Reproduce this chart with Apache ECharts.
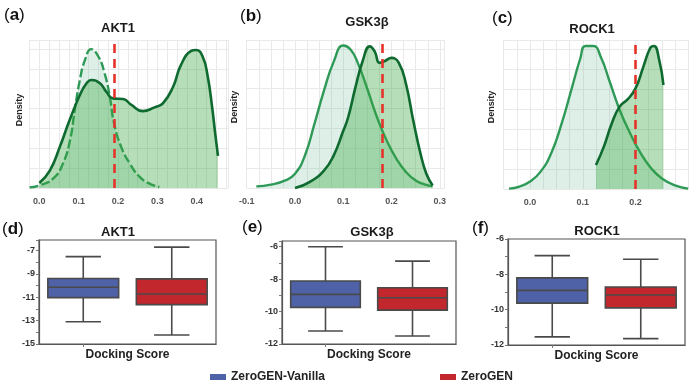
<!DOCTYPE html>
<html><head><meta charset="utf-8">
<script src="https://cdn.jsdelivr.net/npm/echarts@6/dist/echarts.min.js"></script>
<style>html,body{margin:0;padding:0;background:#fff}#c{width:700px;height:382px}</style>
</head><body><div id="c"></div>
<script>
const FONT = 'Liberation Sans, Arial, Helvetica, sans-serif';

// ---------- Density panels (a)-(c) ----------
const AKT1_VAN_X = [-0.025, 0.0, 0.035, 0.06, 0.078, 0.09, 0.103, 0.116, 0.132, 0.15, 0.166, 0.179, 0.19, 0.208, 0.23, 0.255, 0.28, 0.305];
const AKT1_VAN_D = [0.03, 0.13, 0.47, 1.23, 2.41, 3.92, 5.44, 6.45, 6.99, 6.62, 5.77, 4.6, 3.25, 2.07, 1.23, 0.56, 0.22, 0.05];
const AKT1_ZG_X = [0.0, 0.027, 0.052, 0.077, 0.103, 0.12, 0.132, 0.154, 0.17, 0.187, 0.213, 0.234, 0.263, 0.293, 0.314, 0.34, 0.36, 0.386, 0.398, 0.415, 0.428, 0.439, 0.447, 0.454];
const AKT1_ZG_D = [0.25, 0.89, 2.07, 3.42, 4.68, 5.27, 5.44, 5.27, 4.85, 4.51, 4.48, 4.18, 3.87, 4.06, 4.26, 5.10, 6.2, 6.9, 6.95, 6.62, 5.61, 4.09, 2.74, 1.62];

const GSK_VAN_X = [-0.08, -0.05, -0.02, 0.0, 0.02, 0.04, 0.06, 0.08, 0.1, 0.115, 0.13, 0.15, 0.17, 0.19, 0.21, 0.23, 0.25, 0.27, 0.285];
const GSK_VAN_D = [0.08, 0.17, 0.38, 0.72, 1.6, 3.2, 4.9, 6.35, 7.17, 6.97, 6.3, 4.97, 3.55, 2.38, 1.47, 0.8, 0.38, 0.17, 0.08];
const GSK_ZG_X = [0.0, 0.03, 0.06, 0.08, 0.1, 0.11, 0.125, 0.14, 0.155, 0.165, 0.175, 0.185, 0.2, 0.215, 0.23, 0.245, 0.26, 0.272, 0.285];
const GSK_ZG_D = [0.0, 0.3, 0.88, 1.63, 2.88, 3.55, 5.05, 6.38, 7.13, 6.88, 6.3, 6.38, 6.55, 6.3, 5.22, 3.38, 1.72, 0.72, 0.13];

const ROCK_VAN_X = [-0.04, -0.02, 0.0, 0.02, 0.04, 0.06, 0.08, 0.095, 0.105, 0.12, 0.135, 0.15, 0.17, 0.19, 0.21, 0.23, 0.25, 0.275, 0.3];
const ROCK_VAN_D = [0.02, 0.12, 0.37, 0.87, 1.78, 3.28, 5.12, 6.5, 7.15, 7.15, 6.55, 5.45, 3.95, 2.78, 1.78, 1.03, 0.53, 0.18, 0.02];
const ROCK_ZG_X = [0.125, 0.14, 0.155, 0.17, 0.185, 0.2, 0.215, 0.228, 0.235, 0.245, 0.253];
const ROCK_ZG_D = [1.2, 2.12, 3.28, 4.12, 4.48, 5.03, 6.12, 7.05, 7.15, 6.45, 5.2];

const THRESHOLDS = [0.187, 0.18, 0.2];

// ---------- Box panels (d)-(f): [low whisker, Q1, median, Q3, high whisker] ----------
const MODELS = ['ZeroGEN-Vanilla', 'ZeroGEN'];
const AKT1_BOX_VAN = [-13.09, -11.03, -10.14, -9.40, -7.52];
const AKT1_BOX_ZG  = [-14.23, -11.63, -10.72, -9.43, -6.71];
const GSK_BOX_VAN  = [-11.2, -9.74, -8.94, -8.12, -6.0];
const GSK_BOX_ZG   = [-11.51, -9.91, -9.15, -8.53, -6.89];
const ROCK_BOX_VAN = [-11.54, -9.63, -8.91, -8.2, -6.94];
const ROCK_BOX_ZG  = [-11.64, -9.9, -9.17, -8.72, -7.15];

const TITLES = ['AKT1', 'GSK3β', 'ROCK1'];

const LIGHT_LINE = '#2f9a58', DARK_LINE = '#0e6a2f';
const LIGHT_FILL = 'rgba(120,190,160,0.36)', DARK_FILL = 'rgba(55,165,60,0.52)';
const BLUE = '#4f62a8', RED = '#c1272d';

const zip = (xs, ys) => xs.map((x, i) => [x, ys[i]]);

const densGrids = [
  {left: 29.5, top: 40, width: 198.7, height: 148},
  {left: 246.7, top: 40, width: 198, height: 148},
  {left: 503.7, top: 40, width: 184.5, height: 149}
];
const densX = [[-0.025, 0.48], [-0.1, 0.31], [-0.05, 0.3]];
const boxGrids = [
  {left: 39, top: 240, width: 177, height: 104},
  {left: 282, top: 241, width: 174, height: 103},
  {left: 508, top: 239, width: 177, height: 106}
];
const boxY = [[-15, -6.1, 1], [-12, -5.65, 0], [-12, -6, 0]];

const grid = [], xAxis = [], yAxis = [], series = [];
densGrids.forEach((g, i) => {
  grid.push(Object.assign({show: false}, g));
  xAxis.push({type: 'value', gridIndex: i, min: densX[i][0], max: densX[i][1], interval: 0.025,
    axisLine: {show: false}, axisTick: {show: false},
    axisLabel: {margin: 9, color: '#555', fontSize: 9, fontWeight: 'bold', fontFamily: FONT,
      showMinLabel: i === 1, showMaxLabel: false,
      formatter: v => { const t = v * 10; return Math.abs(t - Math.round(t)) < 1e-6 ? (Math.round(t) / 10).toFixed(1) : ''; }},
    splitLine: {show: true, lineStyle: {color: '#e9e9e9', width: 1}}});
  yAxis.push({type: 'value', gridIndex: i, min: 0, max: 7.45, interval: 1,
    axisLine: {show: false}, axisTick: {show: false}, axisLabel: {show: false},
    splitLine: {show: true, lineStyle: {color: '#e9e9e9', width: 1}}});
});
boxGrids.forEach((g, k) => {
  const i = k + 3;
  grid.push(Object.assign({show: true, borderColor: '#555', borderWidth: 1.2}, g));
  xAxis.push({type: 'category', gridIndex: i, data: MODELS,
    axisLine: {show: true, lineStyle: {color: '#555', width: 1.2}},
    axisTick: {show: true, alignWithLabel: true, length: 3, lineStyle: {color: '#777'}},
    axisLabel: {show: false},
    name: 'Docking Score', nameLocation: 'middle', nameGap: 5,
    nameTextStyle: {fontSize: 12, fontWeight: 'bold', color: '#222', fontFamily: FONT, verticalAlign: 'top'}});
  const [mn, mx, par] = boxY[k];
  yAxis.push({type: 'value', gridIndex: i, min: mn, max: mx, interval: 1,
    axisLine: {show: true, lineStyle: {color: '#555', width: 1.2}},
    axisTick: {show: true, length: 3, lineStyle: {color: '#777'}},
    axisLabel: {margin: 4, fontSize: 9, fontWeight: 'bold', color: '#333', fontFamily: FONT,
      showMaxLabel: true, showMinLabel: true,
      formatter: v => (Number.isInteger(v) && Math.abs(v % 2) === par) ? String(v) : ''},
    splitLine: {show: false}});
});

const DENS = [
  [AKT1_VAN_X, AKT1_VAN_D, AKT1_ZG_X, AKT1_ZG_D],
  [GSK_VAN_X, GSK_VAN_D, GSK_ZG_X, GSK_ZG_D],
  [ROCK_VAN_X, ROCK_VAN_D, ROCK_ZG_X, ROCK_ZG_D]
];
DENS.forEach((d, i) => {
  series.push({type: 'line', xAxisIndex: i, yAxisIndex: i, data: [], z: 1, silent: true,
    markLine: {silent: true, symbol: 'none', label: {show: false},
      lineStyle: {color: '#e5332a', width: 2.6, type: [9, 6]},
      data: [{xAxis: THRESHOLDS[i]}]}});
  series.push({name: MODELS[0] + ' density', type: 'line', xAxisIndex: i, yAxisIndex: i, z: 2,
    data: zip(d[0], d[1]), smooth: 0.5, showSymbol: false, silent: true,
    lineStyle: {color: LIGHT_LINE, width: 2.4, type: i === 0 ? [9, 3] : 'solid'},
    areaStyle: {color: LIGHT_FILL}});
  series.push({name: MODELS[1] + ' density', type: 'line', xAxisIndex: i, yAxisIndex: i, z: 3,
    data: zip(d[2], d[3]), smooth: 0.5, showSymbol: false, silent: true,
    lineStyle: {color: DARK_LINE, width: 2.6},
    areaStyle: {color: DARK_FILL}});
});

function boxRender(params, api) {
  const c = api.value(0);
  const lo = api.value(1), q1 = api.value(2), md = api.value(3), q3 = api.value(4), hi = api.value(5);
  const bw = api.size([1, 0])[0] * 0.8;
  const x = api.coord([c, md])[0];
  const y = v => api.coord([c, v])[1];
  const stroke = '#4a4a4a';
  const ls = {stroke: stroke, lineWidth: 1.6, fill: null};
  return {type: 'group', children: [
    {type: 'line', shape: {x1: x, y1: y(q3), x2: x, y2: y(hi)}, style: ls},
    {type: 'line', shape: {x1: x, y1: y(lo), x2: x, y2: y(q1)}, style: ls},
    {type: 'line', shape: {x1: x - bw / 4, y1: y(hi), x2: x + bw / 4, y2: y(hi)}, style: ls},
    {type: 'line', shape: {x1: x - bw / 4, y1: y(lo), x2: x + bw / 4, y2: y(lo)}, style: ls},
    {type: 'rect', shape: {x: x - bw / 2, y: y(q3), width: bw, height: y(q1) - y(q3)},
      style: {fill: api.visual('color'), stroke: stroke, lineWidth: 1.6}},
    {type: 'line', shape: {x1: x - bw / 2, y1: y(md), x2: x + bw / 2, y2: y(md)}, style: ls}
  ]};
}
const BOXES = [[AKT1_BOX_VAN, AKT1_BOX_ZG], [GSK_BOX_VAN, GSK_BOX_ZG], [ROCK_BOX_VAN, ROCK_BOX_ZG]];
BOXES.forEach((b, k) => {
  const i = k + 3;
  [0, 1].forEach(m => {
    series.push({name: MODELS[m], type: 'custom', xAxisIndex: i, yAxisIndex: i, silent: true,
      itemStyle: {color: m === 0 ? BLUE : RED},
      encode: {x: 0, y: [1, 2, 3, 4, 5]},
      renderItem: boxRender,
      data: [[m].concat(b[m])]});
  });
});

const graphic = [];
const panelLabels = [['a', 4, 15], ['b', 240, 16], ['c', 492, 18], ['d', 2, 229], ['e', 242, 227], ['f', 472, 228]];
panelLabels.forEach(([l, x, y]) => graphic.push({type: 'text', x: x, y: y, silent: true,
  style: {text: '{p|(}{b|' + l + '}{p|)}', verticalAlign: 'middle', textVerticalAlign: 'middle',
    rich: {p: {fontSize: 17, fontFamily: FONT, fill: '#111', color: '#111'},
           b: {fontSize: 17, fontWeight: 'bold', fontFamily: FONT, fill: '#111', color: '#111'}}}}));
const titlePos = [[118, 28], [367, 22], [592, 29], [118, 232], [372, 232], [597, 231]];
titlePos.forEach(([x, y], i) => graphic.push({type: 'text', x: x, y: y, silent: true,
  style: {text: TITLES[i % 3], font: 'bold 13px ' + FONT, fill: '#1a1a1a',
    align: 'center', verticalAlign: 'middle', textAlign: 'center', textVerticalAlign: 'middle'}}));
[[20, 110], [235, 107], [492, 107]].forEach(([x, y]) => graphic.push({type: 'text', x: x, y: y,
  rotation: Math.PI / 2, silent: true,
  style: {text: 'Density', font: 'bold 9px ' + FONT, fill: '#222',
    align: 'center', verticalAlign: 'middle', textAlign: 'center', textVerticalAlign: 'middle'}}));

const legendCommon = {orient: 'horizontal', top: 366, icon: 'rect', itemWidth: 16, itemHeight: 6, itemGap: 10,
  selectedMode: false, textStyle: {fontSize: 12, fontWeight: 'bold', color: '#222', fontFamily: FONT}};

const chart = echarts.init(document.getElementById('c'), null, {renderer: 'canvas'});
chart.setOption({
  animation: false,
  backgroundColor: '#fff',
  textStyle: {fontFamily: FONT},
  grid: grid, xAxis: xAxis, yAxis: yAxis, series: series, graphic: graphic,
  legend: [
    Object.assign({}, legendCommon, {left: 205, data: [MODELS[0]]}),
    Object.assign({}, legendCommon, {left: 435, data: [MODELS[1]]})
  ]
});
</script></body></html>
